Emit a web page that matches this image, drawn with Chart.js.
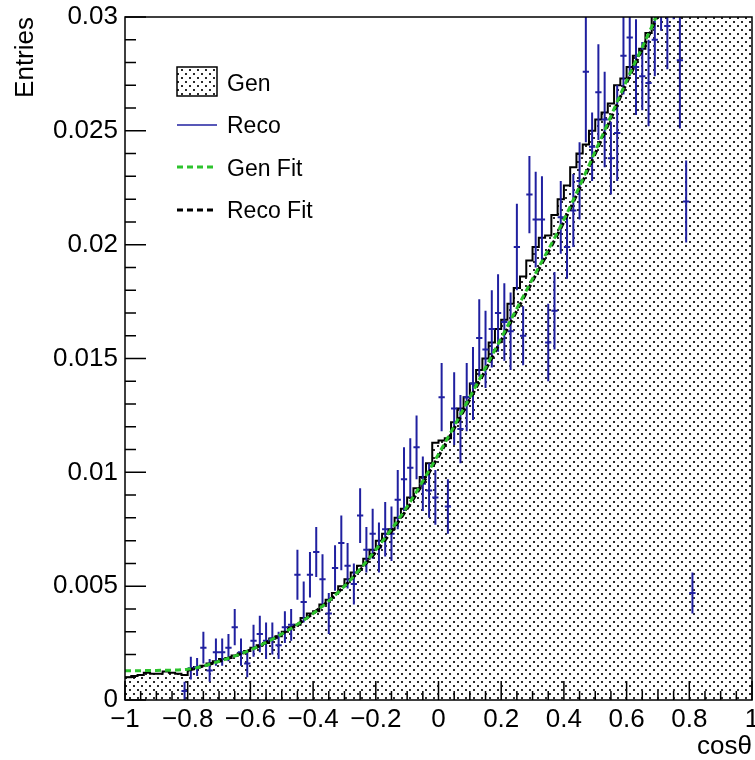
<!DOCTYPE html>
<html>
<head>
<meta charset="utf-8">
<script src="https://cdn.jsdelivr.net/npm/chart.js@4.4.1/dist/chart.umd.min.js"></script>
<style>
  html, body { margin: 0; padding: 0; background: #fff; }
</style>
</head>
<body>
<canvas id="cosChart" width="755" height="760"></canvas>
<script>
// Gen histogram, 100 bins of width 0.02 from -1 to 1 (values above 0.03 run off the top)
const genBinWidth = 0.02;
const genValues = [
  0.00100, 0.00105, 0.00110, 0.00120, 0.00115, 0.00115, 0.00125, 0.00120, 0.00115, 0.00110,
  0.00135, 0.00145, 0.00150, 0.00160, 0.00170, 0.00180, 0.00185, 0.00195, 0.00205, 0.00215,
  0.0023, 0.0024, 0.0025, 0.0027, 0.0028, 0.0030, 0.0032, 0.0033, 0.0036, 0.0038,
  0.0039, 0.0042, 0.0044, 0.0047, 0.0050, 0.0053, 0.0056, 0.0059, 0.0062, 0.0066,
  0.0070, 0.0073, 0.0075, 0.0080, 0.0084, 0.0089, 0.0093, 0.0098, 0.0104, 0.0113,
  0.0114, 0.0115, 0.0122, 0.0128, 0.0133, 0.0139, 0.0145, 0.0150, 0.0157, 0.0163,
  0.0167, 0.0174, 0.0181, 0.0186, 0.0193, 0.0199, 0.0203, 0.0204, 0.0213, 0.0220,
  0.0226, 0.0234, 0.0240, 0.0244, 0.0250, 0.0255, 0.0258, 0.0262, 0.0270, 0.0273,
  0.0278, 0.0283, 0.0286, 0.0293, 0.0302, 0.0310, 0.0318, 0.0326, 0.0334, 0.0342,
  0.0350, 0.0360, 0.0370, 0.0380, 0.0390, 0.0400, 0.0410, 0.0420, 0.0430, 0.0440
];

// Reco points (bin centres, values, vertical errors)
const recoCenters = [
  -0.81, -0.79, -0.77, -0.75, -0.73, -0.71, -0.69, -0.67, -0.65, -0.63,
  -0.61, -0.59, -0.57, -0.55, -0.53, -0.51, -0.49, -0.47, -0.45, -0.43,
  -0.41, -0.39, -0.37, -0.35, -0.33, -0.31, -0.29, -0.27, -0.25, -0.23,
  -0.21, -0.19, -0.17, -0.15, -0.13, -0.11, -0.09, -0.07, -0.05, -0.03,
  -0.01, 0.01, 0.03, 0.05, 0.07, 0.09, 0.11, 0.13, 0.15, 0.17,
  0.19, 0.21, 0.23, 0.25, 0.27, 0.29, 0.31, 0.33, 0.35, 0.37,
  0.39, 0.41, 0.43, 0.45, 0.47, 0.49, 0.51, 0.53, 0.55, 0.57,
  0.59, 0.61, 0.63, 0.65, 0.67, 0.69, 0.71, 0.73, 0.75, 0.77,
  0.79, 0.81
];
const recoValues = [
  0.0004, 0.0014, 0.00145, 0.0023, 0.0013, 0.0021, 0.0021, 0.0023, 0.0032, 0.0021,
  0.0016, 0.0026, 0.0029, 0.0026, 0.0027, 0.0024, 0.0032, 0.0033, 0.0055, 0.0043,
  0.0055, 0.0065, 0.0053, 0.0038, 0.0058, 0.0069, 0.0059, 0.0051, 0.0081, 0.0066,
  0.0073, 0.0067, 0.0075, 0.0073, 0.0088, 0.0097, 0.0102, 0.0111, 0.0095, 0.0092,
  0.0089, 0.0133, 0.0085, 0.0128, 0.0119, 0.0133, 0.0139, 0.0159, 0.0154, 0.0163,
  0.0170, 0.0166, 0.0162, 0.0199, 0.0160, 0.0222, 0.0211, 0.0211, 0.0157, 0.0171,
  0.0212, 0.0199, 0.0215, 0.0228, 0.0276, 0.0243, 0.0267, 0.0255, 0.0238, 0.0249,
  0.0283, 0.0291, 0.0278, 0.0274, 0.0271, 0.0290, 0.0315, 0.0296, 0.0320, 0.0281,
  0.0219, 0.0047
];
const recoErrors = [
  0.0004, 0.0005, 0.0004, 0.0007, 0.0005, 0.0006, 0.0006, 0.0006, 0.0008, 0.0006,
  0.0006, 0.0007, 0.0008, 0.0008, 0.0007, 0.0006, 0.0007, 0.0007, 0.0011, 0.0009,
  0.0010, 0.0011, 0.0011, 0.0009, 0.0010, 0.0012, 0.0010, 0.0009, 0.0012, 0.0010,
  0.0011, 0.0011, 0.0012, 0.0012, 0.0013, 0.0014, 0.0013, 0.0014, 0.0012, 0.0012,
  0.0012, 0.0015, 0.0012, 0.0016, 0.0015, 0.0015, 0.0016, 0.0017, 0.0017, 0.0017,
  0.0017, 0.0017, 0.0017, 0.0019, 0.0013, 0.0017, 0.0021, 0.0019, 0.0017, 0.0017,
  0.0016, 0.0014, 0.0016, 0.0017, 0.0031, 0.0015, 0.0021, 0.0021, 0.0016, 0.0021,
  0.0017, 0.0017, 0.0021, 0.0015, 0.0019, 0.0016, 0.0021, 0.0019, 0.0021, 0.0030,
  0.0018, 0.0009
];

const fitX = [-1, -0.9, -0.8, -0.7, -0.6, -0.5, -0.4, -0.3, -0.2, -0.1, 0, 0.1, 0.2, 0.3, 0.4, 0.5, 0.6, 0.7, 0.72];
const genFitValues = [0.00128, 0.0013, 0.00135, 0.0017, 0.0022, 0.0029, 0.0038, 0.0050, 0.0066, 0.0085, 0.0108, 0.0133, 0.0159, 0.0185, 0.0211, 0.0241, 0.0272, 0.0302, 0.0309];
const recoFitValues = [null, null, 0.0013, 0.0017, 0.0022, 0.0029, 0.0038, 0.0050, 0.0065, 0.0084, 0.0107, 0.0132, 0.0158, 0.0184, 0.0210, 0.0240, 0.0271, 0.0301, 0.0308];

const recoColor = 'rgb(32, 32, 160)';
const genFitColor = 'rgb(45, 195, 45)';

const canvas = document.getElementById('cosChart');
const ctx = canvas.getContext('2d');

// dotted fill like ROOT's fill style
function dotPattern() {
  const tile = document.createElement('canvas');
  tile.width = 8; tile.height = 8;
  const t = tile.getContext('2d');
  t.fillStyle = '#2a2a2a';
  t.fillRect(1, 1, 2, 2);
  t.fillRect(5, 5, 2, 2);
  return ctx.createPattern(tile, 'repeat');
}
const dots = dotPattern();

// step histogram points at the low bin edges, plus the closing edge
const genPoints = genValues.map((v, i) => ({ x: -1 + i * genBinWidth, y: v }));
genPoints.push({ x: 1, y: genValues[genValues.length - 1] });

const errorBars = {
  id: 'errorBars',
  afterDatasetDraw(chart, args) {
    if (chart.data.datasets[args.index].label !== 'Reco') return;
    const { ctx, chartArea: a, scales: { x, y } } = chart;
    ctx.save();
    ctx.beginPath();
    ctx.rect(a.left, a.top, a.right - a.left, a.bottom - a.top);
    ctx.clip();
    ctx.strokeStyle = recoColor;
    ctx.lineWidth = 2;
    ctx.beginPath();
    recoValues.forEach((v, i) => {
      const c = recoCenters[i];
      const py = y.getPixelForValue(v);
      ctx.moveTo(x.getPixelForValue(c - genBinWidth / 2), py);
      ctx.lineTo(x.getPixelForValue(c + genBinWidth / 2), py);
      const px = x.getPixelForValue(c);
      ctx.moveTo(px, y.getPixelForValue(v - recoErrors[i]));
      ctx.lineTo(px, y.getPixelForValue(v + recoErrors[i]));
    });
    ctx.stroke();
    ctx.restore();
  }
};

// frame, inward ticks and the legend, ROOT style
const rootFrame = {
  id: 'rootFrame',
  afterDraw(chart) {
    const { ctx, chartArea: a, scales: { x, y } } = chart;
    ctx.save();
    ctx.strokeStyle = '#000';
    ctx.lineWidth = 1.5;
    ctx.strokeRect(a.left, a.top, a.right - a.left, a.bottom - a.top);

    ctx.beginPath();
    for (let i = 0; i <= 40; i++) {
      const px = x.getPixelForValue(-1 + i * 0.05);
      const len = i % 4 === 0 ? 19 : 9;
      ctx.moveTo(px, a.bottom);
      ctx.lineTo(px, a.bottom - len);
    }
    for (let i = 0; i <= 30; i++) {
      const py = y.getPixelForValue(i * 0.001);
      const len = i % 5 === 0 ? 21 : 11;
      ctx.moveTo(a.left, py);
      ctx.lineTo(a.left + len, py);
    }
    ctx.stroke();

    // legend
    const lx = 177, lw = 40, tx = 227;
    ctx.font = '23px "Liberation Sans", Arial, sans-serif';
    ctx.textBaseline = 'alphabetic';

    ctx.fillStyle = '#fff';
    ctx.fillRect(lx, 67, lw, 29);
    ctx.fillStyle = dots;
    ctx.fillRect(lx, 67, lw, 29);
    ctx.lineWidth = 1.5;
    ctx.strokeStyle = '#000';
    ctx.strokeRect(lx, 67, lw, 29);
    ctx.fillStyle = '#000';
    ctx.fillText('Gen', tx, 91);

    ctx.strokeStyle = recoColor;
    ctx.lineWidth = 1.5;
    ctx.beginPath(); ctx.moveTo(lx, 125); ctx.lineTo(lx + lw, 125); ctx.stroke();
    ctx.fillText('Reco', tx, 133);

    ctx.setLineDash([6, 4]);
    ctx.lineWidth = 3;
    ctx.strokeStyle = genFitColor;
    ctx.beginPath(); ctx.moveTo(lx, 167); ctx.lineTo(lx + lw, 167); ctx.stroke();
    ctx.fillText('Gen Fit', tx, 176);

    ctx.strokeStyle = '#000';
    ctx.beginPath(); ctx.moveTo(lx, 210); ctx.lineTo(lx + lw, 210); ctx.stroke();
    ctx.fillText('Reco Fit', tx, 218);
    ctx.restore();
  }
};

Chart.defaults.font.family = '"Liberation Sans", Arial, sans-serif';
Chart.defaults.color = '#000';

new Chart(ctx, {
  type: 'line',
  data: {
    datasets: [
      {
        label: 'Gen',
        data: genPoints,
        stepped: true,
        borderColor: '#000',
        borderWidth: 2,
        backgroundColor: dots,
        fill: 'origin',
        pointRadius: 0,
        clip: 0,
        order: 4
      },
      {
        label: 'Reco',
        data: recoCenters.map((c, i) => ({ x: c, y: recoValues[i] })),
        showLine: false,
        pointRadius: 0,
        borderColor: recoColor,
        order: 3
      },
      {
        label: 'Reco Fit',
        data: fitX.map((fx, i) => ({ x: fx, y: recoFitValues[i] })),
        borderColor: '#000',
        borderWidth: 3,
        borderDash: [6, 4],
        cubicInterpolationMode: 'monotone',
        pointRadius: 0,
        fill: false,
        clip: 0,
        order: 2
      },
      {
        label: 'Gen Fit',
        data: fitX.map((fx, i) => ({ x: fx, y: genFitValues[i] })),
        borderColor: genFitColor,
        borderWidth: 3,
        borderDash: [6, 4],
        cubicInterpolationMode: 'monotone',
        pointRadius: 0,
        fill: false,
        clip: 0,
        order: 1
      }
    ]
  },
  options: {
    responsive: false,
    animation: false,
    layout: { padding: { top: 17, right: 3, left: 0, bottom: 0 } },
    plugins: {
      legend: { display: false },
      tooltip: { enabled: false }
    },
    scales: {
      x: {
        type: 'linear',
        min: -1,
        max: 1,
        grid: { display: false, drawTicks: false },
        border: { display: false },
        ticks: {
          stepSize: 0.2,
          padding: 4,
          maxRotation: 0,
          font: { size: 26 },
          callback: v => String(Math.round(v * 10) / 10).replace('-', '\u2212')
        },
        title: {
          display: true,
          text: 'cos\u03b8',
          align: 'end',
          font: { size: 26, lineHeight: 1 },
          padding: { top: 0, bottom: 0 }
        },
        afterFit: s => { s.height = 60; s.paddingLeft = 0; s.paddingRight = 0; }
      },
      y: {
        min: 0,
        max: 0.03,
        grid: { display: false, drawTicks: false },
        border: { display: false },
        ticks: {
          stepSize: 0.005,
          padding: 7,
          font: { size: 26 },
          callback: v => String(parseFloat(v.toFixed(3)))
        },
        title: {
          display: true,
          text: 'Entries',
          align: 'end',
          font: { size: 26, lineHeight: 1 },
          padding: { top: 13, bottom: 0 }
        },
        afterFit: s => { s.width = 125; s.paddingTop = 0; s.paddingBottom = 0; }
      }
    }
  },
  plugins: [errorBars, rootFrame]
});
</script>
</body>
</html>
